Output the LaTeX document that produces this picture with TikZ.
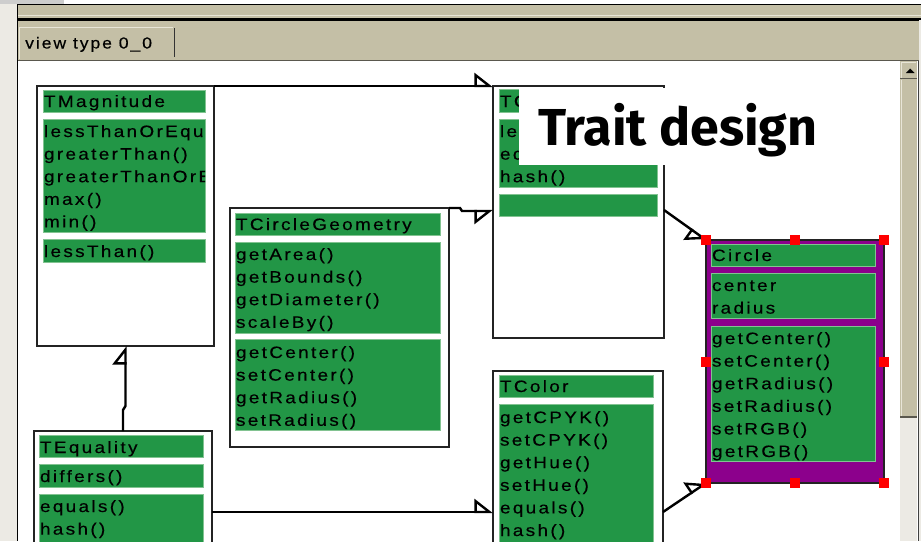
\documentclass[tikz,border=0pt]{standalone}
\usepackage{fontspec}
\setmainfont{Liberation Sans}
\newfontfamily\umlfont[LetterSpace=14, FakeStretch=1.15, FakeBold=0.3]{Liberation Sans}
\newfontfamily\tabfont[LetterSpace=12, FakeStretch=1.1, FakeBold=0.3]{Liberation Sans}
\newfontfamily\titlefont{Fira Sans}
\usetikzlibrary{arrows.meta}

\definecolor{umlgreen}{RGB}{34,150,70}
\definecolor{umledge}{RGB}{130,195,145}
\definecolor{umlpurple}{RGB}{140,0,140}
\definecolor{chrome}{RGB}{196,191,166}
\definecolor{chromehigh}{RGB}{232,229,215}
\definecolor{chromeshade}{RGB}{90,88,78}
\definecolor{chromelight}{RGB}{236,234,228}
\definecolor{chromegray}{RGB}{205,205,205}
\definecolor{frame}{RGB}{35,35,35}

\tikzset{
  classbox/.style={draw=frame, line width=1.4pt, fill=white, rectangle,
    anchor=north west, inner sep=0pt, outer sep=0pt},
  compart/.style={fill=umlgreen, draw=umledge, line width=0.6pt, rectangle,
    anchor=north west, inner sep=0pt, outer sep=0pt},
  optext/.style={font=\umlfont\fontsize{16.5}{20}\selectfont, anchor=base west,
    inner sep=0pt, outer sep=0pt, text=black},
  handle/.style={fill=red, rectangle, minimum size=10pt, inner sep=0pt},
  inheritL/.style={line width=2.4pt,
    -{Triangle[open, left, length=17pt, width=26pt]}},
  inheritR/.style={line width=2.4pt,
    -{Triangle[open, right, length=17pt, width=26pt]}},
}

% a green compartment given by its corners
\newcommand\compartment[5]{%
  \node[compart, minimum width={(#4-#2)*1pt}, minimum height={(#5-#3)*1pt}] (#1) at (#2,#3) {};}
% one text line per entry, baselines 22.6pt apart
\newcommand\oplines[4]{%
  \foreach \entry [count=\k from 0] in {#4} {%
    \node[optext] (#1-\k) at (#2,{#3+22.6*\k}) {\entry};}}

\begin{document}
\begin{tikzpicture}[x=1pt,y=-1pt]
\useasboundingbox (0,0) rectangle (921,541);

% ---- window frame ----
\fill[white] (0,0) rectangle (921,541);
\fill[chromegray] (0,0) rectangle (64,4);
\fill[chromelight] (0,4) rectangle (17,541);
\fill[chrome] (17,4) rectangle (921,61);
\draw[black, line width=1.2pt] (17,4.6) -- (921,4.6);
\draw[chromehigh, line width=1pt] (18,15.5) -- (921,15.5);
\draw[black, line width=3pt] (17,19) -- (921,19);
\draw[chromeshade, line width=1pt] (17,60.5) -- (921,60.5);
\draw[black, line width=1.5pt] (17.6,4) -- (17.6,541);

% tab
\draw[chromehigh, line width=1pt] (19,59) -- (19,27.5) -- (173,27.5);
\draw[black!80, line width=1.6pt] (174.5,28) -- (174.5,57);
\node[font=\tabfont\fontsize{16}{18}\selectfont, anchor=base west, inner sep=0pt]
  (tab) at (25,48.5) {view type 0\_0};

% scrollbar
\fill[chrome] (900,61) rectangle (917,417);
\draw[chromehigh, line width=1pt] (901,78) -- (901,62) -- (916,62);
\draw[chromeshade, line width=1.2pt] (900,78.5) -- (917,78.5);
\draw[chromehigh, line width=1pt] (901.5,80) -- (901.5,416);
\draw[chromeshade, line width=1.2pt] (900,417) -- (917,417);
\fill[chromelight] (900,418) rectangle (917,541);
\fill[black] (906,73) -- (914.5,73) -- (910.2,68.5) -- cycle;
\fill[chromelight] (919,20) rectangle (921,541);
\draw[black!75, line width=1.4pt] (918.3,61) -- (918.3,541);

% ---- drawing area ----
\begin{scope}
\clip (18.4,61) rectangle (899.5,541);
\fill[white] (18,61) rectangle (900,541);

% TMagnitude
\node[classbox, minimum width=177pt, minimum height=260pt] (tmag) at (37,86) {};
\compartment{tmag-name}{43}{90}{205}{112}
\compartment{tmag-ops}{43}{119}{205}{232}
\compartment{tmag-req}{43}{239}{205}{262}
\node[optext] (tmag-title) at (44,107) {TMagnitude};
\begin{scope}
  \clip (43,119) rectangle (205,232);
  \oplines{tmag-op}{44}{137}{lessThanOrEqu, greaterThan(), greaterThanOrE, max(), min()}
\end{scope}
\node[optext] (tmag-lt) at (44,257) {lessThan()};

% TCircleGeometry
\node[classbox, minimum width=219pt, minimum height=239pt] (tcg) at (230,208) {};
\compartment{tcg-name}{235}{213}{440}{235}
\compartment{tcg-ops}{235}{242}{440}{333}
\compartment{tcg-req}{235}{339}{440}{430}
\node[optext] (tcg-title) at (236,230) {TCircleGeometry};
\oplines{tcg-op}{236}{260}{getArea(), getBounds(), getDiameter(), scaleBy()}
\oplines{tcg-rq}{236}{358}{getCenter(), setCenter(), getRadius(), setRadius()}

% TC...
\node[classbox, minimum width=171pt, minimum height=252pt] (tc) at (493,86) {};
\compartment{tc-name}{499}{89}{657}{112}
\compartment{tc-ops}{499}{119}{657}{187}
\compartment{tc-req}{499}{194}{657}{216}
\node[optext] (tc-title) at (500,107) {TC};
\oplines{tc-op}{500}{137}{le, eq, hash()}

% TColor
\node[classbox, minimum width=170pt, minimum height=200pt] (tcol) at (493,371) {};
\compartment{tcol-name}{499}{375}{653}{397}
\compartment{tcol-ops}{499}{404}{653}{560}
\node[optext] (tcol-title) at (500,392) {TColor};
\oplines{tcol-op}{500}{423}{getCPYK(), setCPYK(), getHue(), setHue(), equals(), hash()}

% TEquality
\node[classbox, minimum width=178pt, minimum height=200pt] (teq) at (34,431) {};
\compartment{teq-name}{39}{435}{203}{457}
\compartment{teq-req}{39}{464}{203}{487}
\compartment{teq-ops}{39}{494}{203}{560}
\node[optext] (teq-title) at (40,453) {TEquality};
\node[optext] (teq-rq) at (40,482) {differs()};
\oplines{teq-op}{40}{512}{equals(), hash()}

% Circle (selected class)
\node[draw=frame, fill=umlpurple, line width=1.4pt, rectangle, anchor=north west,
  inner sep=0pt, outer sep=0pt, minimum width=178pt, minimum height=243pt]
  (circle) at (706,240) {};
\compartment{circle-name}{711}{244}{875}{266}
\compartment{circle-vars}{711}{273}{875}{318}
\compartment{circle-ops}{711}{326}{875}{461}
\node[optext] (circle-title) at (712,261) {Circle};
\oplines{circle-var}{712}{291}{center, radius}
\oplines{circle-op}{712}{344}{getCenter(), setCenter(), getRadius(), setRadius(), setRGB(), getRGB()}

% connectors
\coordinate (tc-in) at (0,211);
\coordinate (tc-out) at (0,210);
\coordinate (teq-out) at (0,512);
\draw[inheritL] (teq.north) -- ++(0,-21) -- ++(2.5,-4) -- (tmag.south);
\draw[inheritL] (tmag.north east) -- (tc.north west);
\draw[inheritR] (tcg.north east) -- ++(11,0) -- ++(2,3) -- (tc.west |- tc-in);
\draw[inheritR] (tc.east |- tc-out) -- (circle.north west);
\draw[inheritL] (tcol.east |- teq-out) -- (circle.south west);
\draw[inheritL] (teq.east |- teq-out) -- (tcol.west |- teq-out);

% selection handles
\foreach \a in {north west, north, north east, west, east, south west, south, south east}
  \node[handle] (handle-\a) at (circle.\a) {};

% caption
\node[fill=white, rectangle, anchor=north west, inner sep=0pt,
  minimum width=311pt, minimum height=77pt] (captionbox) at (519,88) {};
\node[font=\titlefont\bfseries\fontsize{52}{56}\selectfont, anchor=base west,
  inner sep=0pt] (caption) at (538,145) {Trait design};
\end{scope}
\end{tikzpicture}
\end{document}
